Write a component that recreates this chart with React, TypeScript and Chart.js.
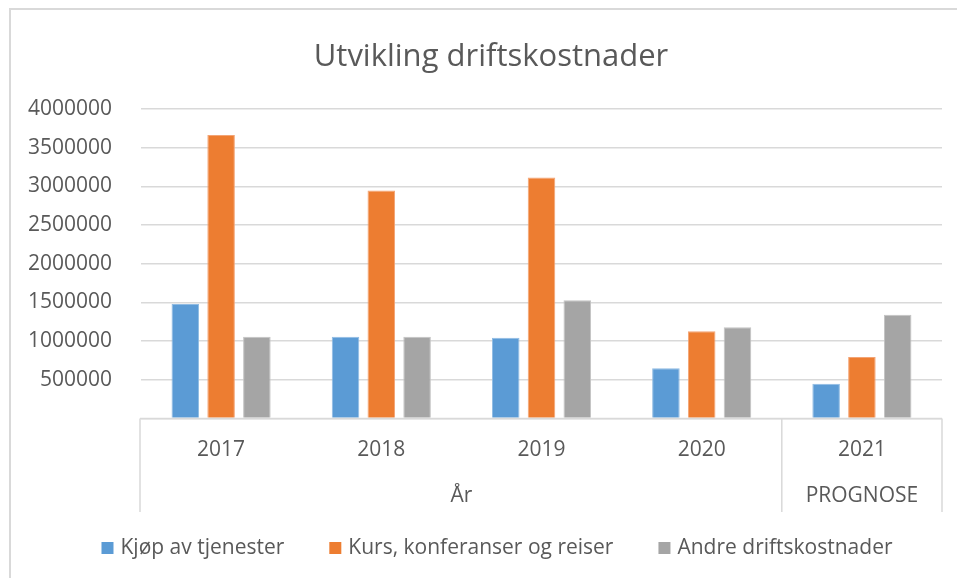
import React, { useEffect, useRef } from "react";
import { Chart, registerables } from "chart.js";

Chart.register(...registerables);

// ---- data ----
const TITLE = "Utvikling driftskostnader";
const years = ["2017", "2018", "2019", "2020", "2021"];
const groupLabels = ["År", "PROGNOSE"];
const groupSpans = [4, 1];
const seriesNames = ["Kjøp av tjenester", "Kurs, konferanser og reiser", "Andre driftskostnader"];
const kjopAvTjenester = [1480000, 1057000, 1044000, 649000, 450000];
const kursKonferanser = [3663000, 2948000, 3116000, 1127000, 795000];
const andreDrift = [1057000, 1057000, 1527000, 1178000, 1341000];
const yMin = 0;
const yMax = 4000000;
const yStep = 500000;

// ---- style ----
const FONT = "'Open Sans', 'Liberation Sans', sans-serif";
const TEXT = "#595959";
const GRID = "#d9d9d9";
const COLORS = ["#5b9bd5", "#ed7d31", "#a5a5a5"];
const BORDERS = ["#8fbbe3", "#f3a475", "#c3c3c3"];

const decorPlugin = {
  id: "decor",
  afterDraw(chart: any) {
    const ctx = chart.ctx as CanvasRenderingContext2D;
    const xs = chart.scales.x;
    const area = chart.chartArea;
    ctx.save();

    // chart frame
    ctx.strokeStyle = GRID;
    ctx.lineWidth = 2;
    ctx.beginPath();
    ctx.moveTo(10, 1000);
    ctx.lineTo(10, 9);
    ctx.lineTo(1000, 9);
    ctx.stroke();

    // title
    ctx.fillStyle = TEXT;
    ctx.font = `31px ${FONT}`;
    ctx.textAlign = "center";
    ctx.textBaseline = "alphabetic";
    ctx.fillText(TITLE, 491, 66);

    // category axis lines (multi-level)
    const n = chart.data.labels.length;
    const w = n > 1 ? xs.getPixelForValue(1) - xs.getPixelForValue(0) : area.right - area.left;
    const edge = (k: number) => xs.getPixelForValue(0) - w / 2 + k * w;
    const base = area.bottom;
    const lineBottom = 512;
    ctx.strokeStyle = GRID;
    ctx.lineWidth = 1.5;
    ctx.beginPath();
    ctx.moveTo(edge(0) - 1, base);
    ctx.lineTo(edge(n), base);
    ctx.stroke();
    let k = 0;
    const bounds = [0];
    groupSpans.forEach((s) => {
      k += s;
      bounds.push(k);
    });
    bounds.forEach((b) => {
      const x = Math.min(edge(b), area.right);
      ctx.beginPath();
      ctx.moveTo(x - (b === 0 ? 1 : 0), base);
      ctx.lineTo(x - (b === 0 ? 1 : 0), lineBottom);
      ctx.stroke();
    });

    // group labels
    ctx.fillStyle = TEXT;
    ctx.font = `21px ${FONT}`;
    ctx.textAlign = "center";
    ctx.textBaseline = "middle";
    groupLabels.forEach((g, i) => {
      const cx = (edge(bounds[i]) + edge(bounds[i + 1])) / 2;
      ctx.fillText(g, cx, 496);
    });

    // legend
    const ds = chart.data.datasets;
    const box = 12;
    const gap = 7;
    const spacing = 45;
    const widths = ds.map((d: any) => ctx.measureText(d.label).width);
    const total = widths.reduce((a: number, b: number) => a + b, 0) + ds.length * (box + gap) + (ds.length - 1) * spacing;
    let x = 497 - total / 2;
    const ly = 548;
    ds.forEach((d: any, i: number) => {
      ctx.fillStyle = d.backgroundColor;
      ctx.fillRect(x, ly - box / 2, box, box);
      x += box + gap;
      ctx.fillStyle = TEXT;
      ctx.textAlign = "left";
      ctx.fillText(d.label, x, ly);
      x += widths[i] + spacing;
    });

    ctx.restore();
  },
};

export default function App() {
  const ref = useRef<HTMLCanvasElement | null>(null);

  useEffect(() => {
    if (!ref.current) return;
    const values = [kjopAvTjenester, kursKonferanser, andreDrift];
    const chart = new Chart(ref.current, {
      type: "bar",
      data: {
        labels: years,
        datasets: seriesNames.map((name, i) => ({
          label: name,
          data: values[i],
          backgroundColor: COLORS[i],
          borderColor: BORDERS[i],
          borderWidth: 1,
        })),
      },
      options: {
        responsive: false,
        animation: false,
        devicePixelRatio: 1,
        layout: { padding: { left: 10, top: 109, right: 15, bottom: 0 } },
        datasets: { bar: { categoryPercentage: 0.67, barPercentage: 0.77 } },
        plugins: {
          legend: { display: false },
          title: { display: false },
          tooltip: { enabled: false },
        },
        scales: {
          x: {
            grid: { display: false, drawTicks: false },
            border: { display: false },
            ticks: { color: TEXT, font: { family: FONT, size: 21 }, padding: 19, maxRotation: 0 },
            afterFit: (s: any) => {
              s.height = 159.5;
            },
          },
          y: {
            min: yMin,
            max: yMax,
            ticks: {
              stepSize: yStep,
              color: TEXT,
              font: { family: FONT, size: 21 },
              padding: 29,
              callback: (v: any) => (Number(v) === 0 ? "" : String(v)),
            },
            grid: { color: GRID, lineWidth: 1.5, drawTicks: false },
            border: { display: false },
            afterFit: (s: any) => {
              s.width = 131;
            },
          },
        },
      },
      plugins: [decorPlugin],
    } as any);
    return () => chart.destroy();
  }, []);

  return (
    <div style={{ position: "fixed", left: 0, top: 0, width: 957, height: 578, background: "#fff" }}>
      <canvas ref={ref} width={957} height={578} style={{ width: 957, height: 578, display: "block" }} />
    </div>
  );
}
